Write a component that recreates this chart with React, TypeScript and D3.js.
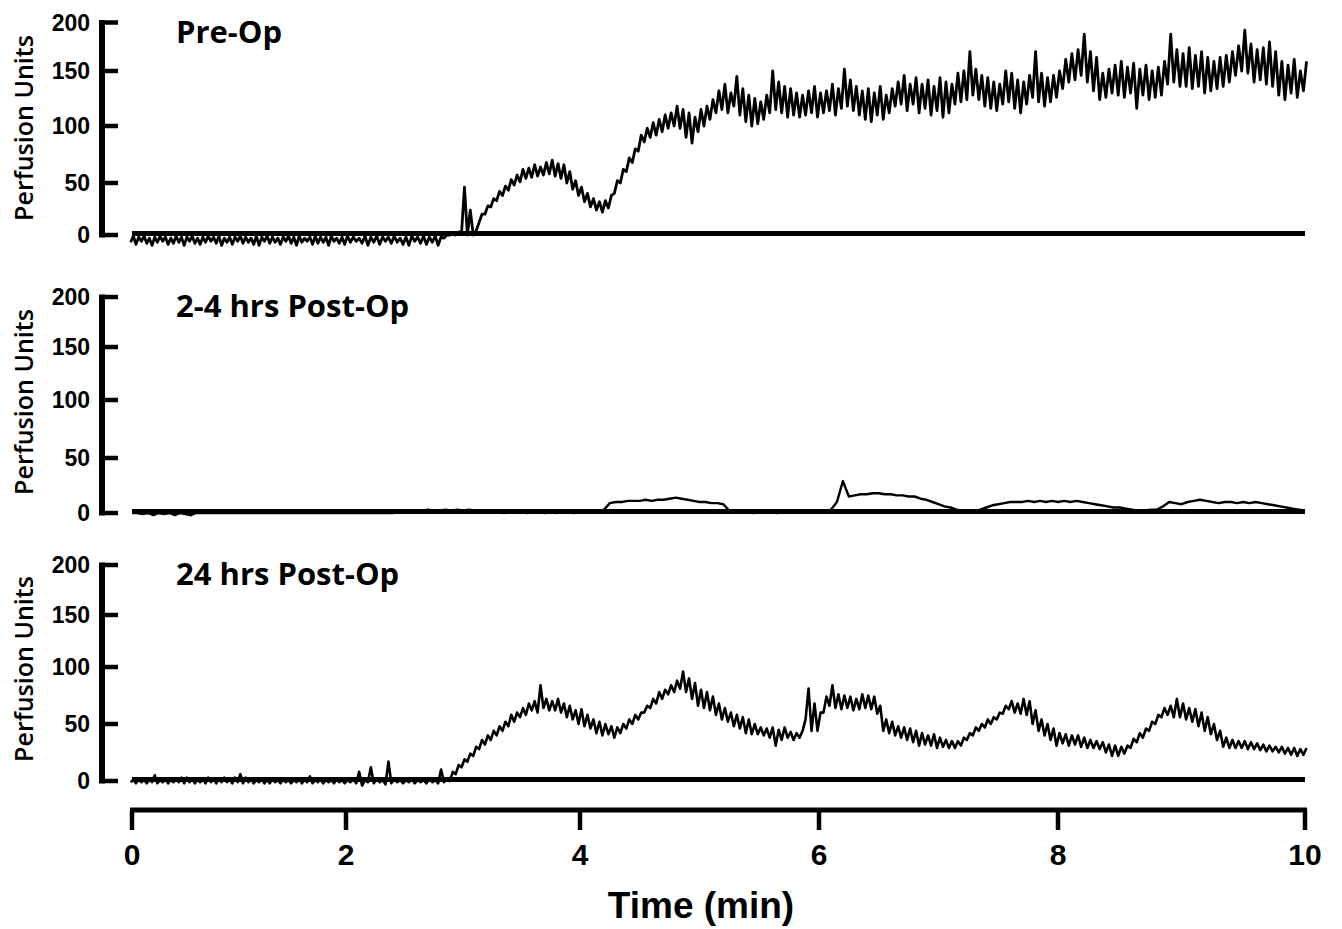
import React from "react";
import * as d3 from "d3";

// ---- data (Perfusion Units sampled every 0.05 min, 0..10 min) ----
const SAMPLE_STEP = 0.05;
const X_TICKS = [0, 2, 4, 6, 8, 10];
const Y_TICKS = [0, 50, 100, 150, 200];
const PANEL_TITLES = ["Pre-Op", "2-4 hrs Post-Op", "24 hrs Post-Op"];

// Pre-Op: upper / lower excursion of the noisy signal
const PRE_HI = [
  -1, -2, -1, -3, -2, -1, -2, -3, -1, -2,
  -2, -1, -3, -2, -1, -2, -1, -3, -2, -2,
  -1, -2, -3, -1, -2, -1, -2, -3, -2, -1,
  -2, -1, -3, -2, -1, -2, -2, -1, -3, -2,
  -1, -2, -3, -1, -2, -1, -2, -2, -1, -3,
  -2, -1, -2, -1, -2, -1, -2, 0, 2, 3,
  46, 24, 4, 20, 28, 35, 42, 47, 53, 57,
  62, 63, 66, 64, 68, 70, 67, 66, 60, 52,
  46, 40, 35, 32, 33, 38, 52, 62, 72, 80,
  92, 98, 103, 106, 110, 112, 118, 115, 112, 108,
  115, 118, 124, 132, 138, 130, 145, 134, 128, 125,
  122, 128, 150, 140, 136, 134, 130, 128, 132, 136,
  130, 132, 138, 134, 152, 142, 136, 132, 134, 130,
  136, 128, 134, 140, 146, 138, 144, 138, 142, 136,
  144, 140, 138, 148, 150, 170, 152, 146, 144, 140,
  138, 150, 148, 142, 140, 146, 170, 148, 144, 146,
  150, 162, 168, 172, 188, 170, 164, 148, 152, 156,
  160, 154, 158, 152, 156, 150, 154, 160, 188, 172,
  168, 174, 166, 170, 164, 160, 164, 166, 170, 176,
  192, 178, 172, 174, 180, 170, 160, 156, 162, 150,
  160,
];
const PRE_LO = [
  -7, -9, -6, -8, -10, -7, -6, -9, -8, -7,
  -10, -6, -8, -9, -7, -6, -8, -10, -7, -9,
  -6, -8, -7, -9, -10, -6, -8, -7, -9, -6,
  -8, -10, -7, -6, -9, -8, -7, -10, -6, -8,
  -9, -7, -6, -8, -10, -7, -9, -6, -8, -7,
  -9, -10, -6, -8, -9, -7, -10, -3, 0, 0,
  2, 0, 0, 12, 20, 27, 33, 38, 43, 48,
  51, 54, 55, 56, 57, 58, 56, 54, 50, 44,
  38, 32, 27, 24, 22, 26, 40, 50, 60, 68,
  78, 86, 90, 92, 95, 98, 100, 98, 90, 85,
  95, 100, 106, 112, 115, 112, 118, 110, 104, 100,
  102, 106, 112, 115, 112, 108, 110, 108, 110, 112,
  108, 112, 114, 110, 116, 118, 114, 110, 106, 104,
  110, 106, 112, 118, 120, 114, 120, 112, 116, 110,
  114, 108, 112, 120, 122, 124, 128, 124, 118, 116,
  114, 120, 122, 116, 112, 120, 126, 122, 118, 122,
  126, 134, 140, 142, 146, 140, 132, 124, 126, 130,
  128, 126, 130, 116, 128, 124, 126, 128, 138, 140,
  136, 136, 134, 136, 130, 132, 134, 136, 140, 146,
  150, 148, 140, 142, 138, 136, 128, 124, 130, 126,
  132,
];

// 2-4 hrs Post-Op
const POST2_VALUES = [
  0, 0, -1, 0, -2, 0, -1, 0, -2, 0,
  -1, -2, 0, 0, 0, 0, 0, 0, 0, 0,
  0, 0, 0, 0, 0, 0, 0, 0, 0, 0,
  0, 0, 0, 0, 0, 0, 0, 0, 0, 0,
  0, 0, 0, 0, 0, 0, 0, 0, 0, 1,
  1, 2, 1, 2, 3, 2, 2, 3, 2, 3,
  2, 3, 2, 1, 2, 1, 1, 0, 1, 1,
  1, 0, 1, 1, 0, 1, 0, 1, 1, 0,
  1, 1, 1, 1, 3, 9, 10, 10, 11, 11,
  11, 12, 11, 12, 12, 13, 14, 13, 12, 11,
  10, 10, 9, 9, 8, 2, 1, 1, 1, 0,
  1, 1, 1, 0, 1, 1, 1, 1, 1, 1,
  1, 1, 3, 10, 29, 15, 16, 17, 17, 18,
  18, 17, 17, 16, 16, 15, 15, 13, 12, 10,
  8, 6, 5, 3, 2, 2, 2, 3, 5, 7,
  8, 9, 10, 10, 10, 11, 10, 11, 10, 11,
  10, 11, 10, 11, 10, 9, 8, 7, 6, 5,
  5, 4, 3, 2, 2, 3, 3, 6, 10, 9,
  8, 10, 11, 12, 11, 10, 9, 10, 10, 9,
  10, 9, 10, 9, 8, 7, 6, 5, 4, 3,
  2,
];

// 24 hrs Post-Op: upper / lower excursion
const POST24_HI = [
  1, 2, 1, 2, 5, 1, 2, 1, 2, 3,
  3, 2, 1, 2, 3, 2, 2, 3, 2, 3,
  6, 3, 2, 1, 2, 1, 2, 1, 2, 1,
  1, 2, 1, 4, 1, 2, 1, 1, 2, 1,
  1, 2, 8, 1, 12, 2, 1, 17, 2, 1,
  1, 2, 1, 1, 2, 1, 10, 2, 8, 14,
  19, 24, 30, 36, 40, 44, 48, 52, 58, 60,
  64, 68, 70, 84, 72, 70, 72, 68, 66, 62,
  63, 58, 54, 52, 50, 48, 47, 50, 54, 58,
  60, 66, 72, 78, 80, 84, 88, 96, 90, 86,
  80, 78, 74, 68, 64, 60, 58, 56, 54, 50,
  47, 46, 47, 45, 47, 43, 42, 44, 81, 68,
  60, 74, 84, 76, 75, 74, 72, 76, 75, 74,
  66, 54, 52, 48, 47, 46, 44, 42, 40, 41,
  38, 36, 35, 35, 38, 42, 47, 50, 54, 56,
  60, 66, 70, 68, 72, 70, 62, 54, 50, 46,
  42, 41, 40, 40, 38, 36, 35, 34, 32, 31,
  30, 31, 37, 42, 46, 52, 58, 64, 66, 72,
  68, 64, 63, 60, 56, 50, 44, 38, 36, 35,
  35, 34, 33, 32, 31, 30, 30, 29, 29, 28,
  29,
];
const POST24_LO = [
  -1, -2, -1, -2, -1, -2, -1, -2, -1, -1,
  -2, -1, -2, -1, -2, -1, -2, -1, -1, -2,
  -1, -2, -1, -2, -1, -2, -2, -1, -2, -1,
  -2, -1, -2, -1, -2, -1, -2, -1, -2, -1,
  -2, -1, -2, -4, -1, -2, -1, -3, -2, -1,
  -2, -1, -2, -1, -2, -1, -2, -1, 0, 6,
  12, 17, 22, 28, 32, 36, 40, 44, 48, 52,
  56, 58, 62, 60, 64, 62, 62, 60, 56, 54,
  50, 48, 46, 42, 40, 41, 38, 42, 46, 50,
  54, 60, 64, 68, 72, 76, 78, 81, 78, 72,
  66, 64, 62, 58, 54, 52, 48, 46, 42, 41,
  41, 40, 38, 31, 36, 38, 36, 38, 54, 44,
  44, 60, 66, 64, 63, 64, 62, 63, 64, 63,
  59, 44, 42, 40, 38, 36, 34, 31, 32, 31,
  29, 30, 29, 29, 31, 36, 40, 44, 47, 50,
  54, 59, 63, 60, 59, 58, 50, 44, 40, 36,
  31, 33, 31, 32, 30, 29, 29, 28, 25, 22,
  22, 24, 29, 34, 38, 44, 50, 56, 58, 56,
  56, 54, 52, 48, 44, 41, 36, 30, 29, 29,
  29, 28, 28, 27, 26, 26, 25, 24, 23, 22,
  23,
];

// ---- layout ----
const W = 1342;
const H = 929;
const X_RANGE = [132, 346, 580, 819, 1058, 1305];
const PANEL_Y_RANGES = [
  [235, 183, 126, 71, 22.5],
  [513, 458, 400, 347, 297],
  [781, 724, 667, 615, 565],
];
const AXIS_X = 102;
const X_AXIS_Y = 810;

const NUM_FONT = "'Liberation Sans', Arial, sans-serif";
const TITLE_FONT = "'Open Sans', 'Liberation Sans', sans-serif";

function zigzag(hi: number[], lo: number[]): [number, number][] {
  const pts: [number, number][] = [];
  hi.forEach((h, i) => {
    const t = i * SAMPLE_STEP;
    pts.push([t - SAMPLE_STEP / 4, lo[i]]);
    pts.push([t + SAMPLE_STEP / 4, h]);
  });
  return pts;
}

export default function App() {
  const x = d3.scaleLinear().domain(X_TICKS).range(X_RANGE);
  const yScales = PANEL_Y_RANGES.map((r) =>
    d3.scaleLinear().domain(Y_TICKS).range(r)
  );

  const traces: { pts: [number, number][]; width: number }[] = [
    { pts: zigzag(PRE_HI, PRE_LO), width: 2.8 },
    {
      pts: POST2_VALUES.map((v, i) => [i * SAMPLE_STEP, v] as [number, number]),
      width: 2.4,
    },
    { pts: zigzag(POST24_HI, POST24_LO), width: 2.6 },
  ];

  return (
    <svg
      width={W}
      height={H}
      style={{ position: "absolute", left: 0, top: 0, background: "#fff" }}
    >
      <rect width={W} height={H} fill="#fff" />
      {yScales.map((y, p) => {
        const line = d3
          .line<[number, number]>()
          .x((d) => x(d[0]))
          .y((d) => y(d[1]));
        return (
          <g key={p}>
            {/* y axis */}
            <line
              x1={AXIS_X}
              x2={AXIS_X}
              y1={y(200) - 2.5}
              y2={y(0) + 2.5}
              stroke="#000"
              strokeWidth={6}
            />
            {Y_TICKS.map((t) => (
              <g key={t}>
                <line
                  x1={AXIS_X}
                  x2={AXIS_X + 16}
                  y1={y(t)}
                  y2={y(t)}
                  stroke="#000"
                  strokeWidth={4.5}
                />
                <text
                  x={90}
                  y={y(t)}
                  dy="0.36em"
                  textAnchor="end"
                  fontFamily={NUM_FONT}
                  fontWeight="bold"
                  fontSize={23}
                  fill="#000"
                >
                  {t}
                </text>
              </g>
            ))}
            <text
              transform={`translate(33,${y(100) + 2}) rotate(-90)`}
              textAnchor="middle"
              fontFamily={TITLE_FONT}
              fontWeight={600}
              fontSize={25}
              fill="#000"
            >
              Perfusion Units
            </text>
            <text
              x={176}
              y={y(200) + 20}
              fontFamily={TITLE_FONT}
              fontWeight="bold"
              fontSize={31}
              fill="#000"
            >
              {PANEL_TITLES[p]}
            </text>
            {/* zero reference line */}
            <line
              x1={x(0)}
              x2={x(10)}
              y1={y(0) - 1.5}
              y2={y(0) - 1.5}
              stroke="#000"
              strokeWidth={5}
            />
            <path
              d={line(traces[p].pts) || ""}
              fill="none"
              stroke="#000"
              strokeWidth={traces[p].width}
              strokeLinejoin="round"
            />
          </g>
        );
      })}

      {/* x axis */}
      <line
        x1={x(0) - 2}
        x2={x(10) + 2}
        y1={X_AXIS_Y}
        y2={X_AXIS_Y}
        stroke="#000"
        strokeWidth={5}
      />
      {X_TICKS.map((t) => (
        <g key={t}>
          <line
            x1={x(t)}
            x2={x(t)}
            y1={X_AXIS_Y}
            y2={X_AXIS_Y + 20}
            stroke="#000"
            strokeWidth={4.5}
          />
          <text
            x={x(t)}
            y={865}
            textAnchor="middle"
            fontFamily={NUM_FONT}
            fontWeight="bold"
            fontSize={30}
            fill="#000"
          >
            {t}
          </text>
        </g>
      ))}
      <text
        x={701}
        y={918}
        textAnchor="middle"
        fontFamily={NUM_FONT}
        fontWeight="bold"
        fontSize={37}
        fill="#000"
      >
        Time (min)
      </text>
    </svg>
  );
}
